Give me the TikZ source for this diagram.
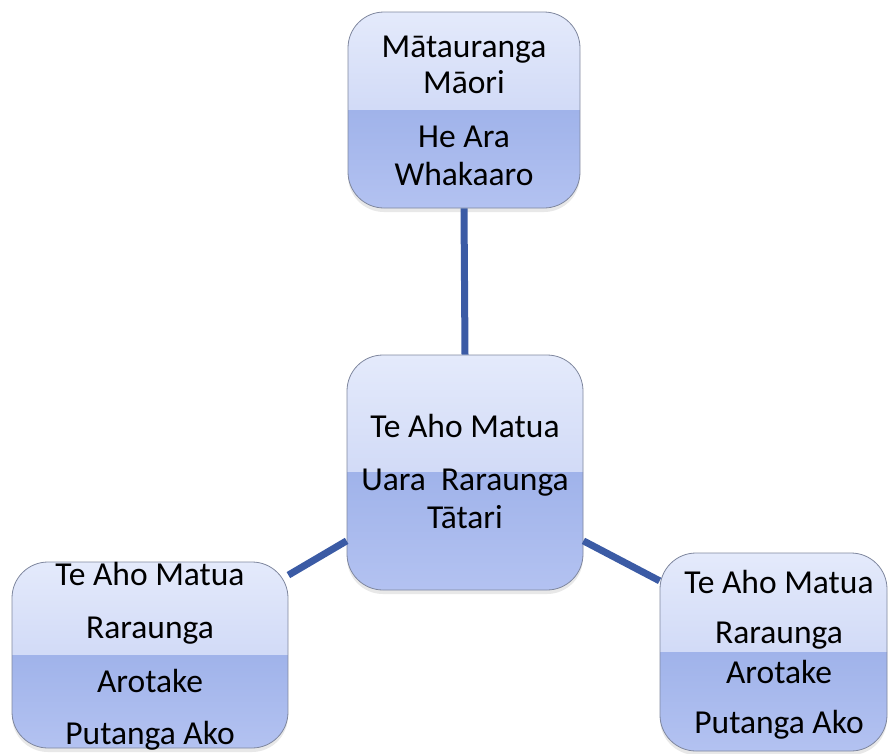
\documentclass[tikz,border=0pt]{standalone}
\usepackage{fontspec}
\setmainfont{Carlito}
\usetikzlibrary{shadows}

\definecolor{glosstop}{HTML}{E4EAFB}
\definecolor{glossmid}{HTML}{BFCBF3}
\definecolor{glossdark}{HTML}{A0B3EA}
\definecolor{glossbot}{HTML}{B3C2F1}
\definecolor{boxedge}{HTML}{7F879E}
\definecolor{linkblue}{HTML}{3B5BA5}

\tikzset{
  glassbox/.style={rectangle, rounded corners=36pt, draw=boxedge, line width=0.8pt,
    drop shadow={opacity=0.18, shadow xshift=0pt, shadow yshift=-4pt},
    path picture={
      \shade[sharp corners, top color=glosstop, bottom color=glossmid]
        (path picture bounding box.north west) rectangle (path picture bounding box.east);
      \shade[sharp corners, top color=glossdark, bottom color=glossbot]
        (path picture bounding box.west) rectangle (path picture bounding box.south east);
    }},
  link/.style={draw=linkblue, line width=7pt},
  word/.style={anchor=base, inner sep=0pt, font=\fontsize{33.5}{37}\selectfont}
}

\begin{document}
\begin{tikzpicture}[x=1pt, y=-1pt]
  \useasboundingbox (0,0) rectangle (889,753);

  % boxes
  \node[glassbox, minimum width=232pt, minimum height=196pt] (maori) at (464,110) {};
  \node[glassbox, minimum width=236pt, minimum height=235pt] (ahomatua) at (465,472.5) {};
  \node[glassbox, minimum width=276pt, minimum height=186pt] (leftbox) at (150,655) {};
  \node[glassbox, minimum width=227pt, minimum height=198pt] (rightbox) at (773.5,652) {};

  % connectors
  \draw[link] (maori.south) -- (ahomatua.north);
  \draw[link] (leftbox.30) -- (ahomatua.210);
  \draw[link] (ahomatua.-30) -- (rightbox.148);

  % top box
  \node[word] (m1) at (464,57) {Mātauranga};
  \node[word] (m2) at (464,93) {Māori};
  \node[word] (m3) at (464,147) {He Ara};
  \node[word] (m4) at (464,185) {Whakaaro};

  % centre box
  \node[word] (c1) at (465,437) {Te Aho Matua};
  \node[word] (c2) at (465,490) {Uara\ \ Raraunga};
  \node[word] (c3) at (465,528) {Tātari};

  % left box
  \node[word] (l1) at (150,585) {Te Aho Matua};
  \node[word] (l2) at (150,638) {Raraunga};
  \node[word] (l3) at (150,692) {Arotake};
  \node[word] (l4) at (150,744) {Putanga Ako};

  % right box
  \node[word] (r1) at (779,593) {Te Aho Matua};
  \node[word] (r2) at (779,643) {Raraunga};
  \node[word] (r3) at (779,683) {Arotake};
  \node[word] (r4) at (779,733) {Putanga Ako};
\end{tikzpicture}
\end{document}
